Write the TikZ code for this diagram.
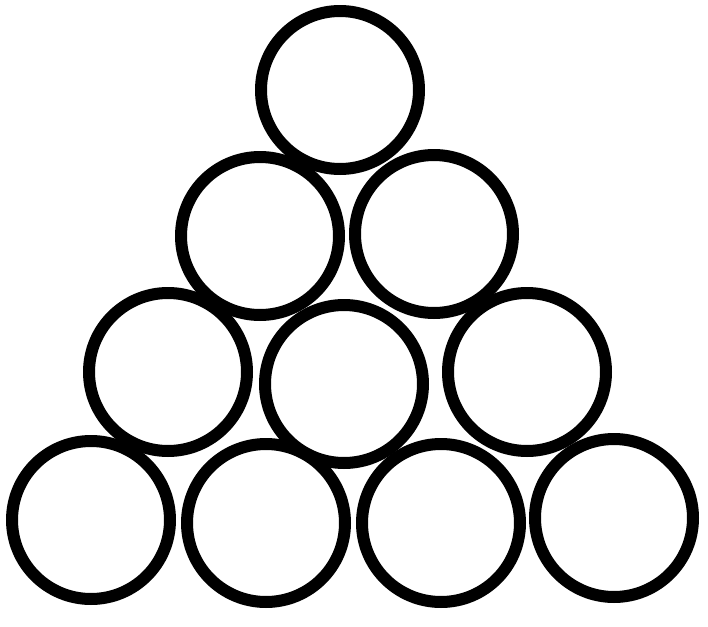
\documentclass[tikz,border=0pt]{standalone}
\usepackage{tikz}
\usetikzlibrary{positioning, shapes}
\tikzset{>=latex}

\begin{document}
\begin{tikzpicture}[x=0.05cm, y=-0.05cm,
    ball/.style={draw, circle, line width=0.6cm, inner sep=0pt, minimum size=7.9cm}]
    \useasboundingbox (0,0) rectangle (708,627);

    % top
    \node[ball] (n1) at (340,90) {};

    % second row
    \node[ball] (n2) at (260,236) {};
    \node[ball] (n3) at (434,234) {};

    % third row
    \node[ball] (n4) at (168,372) {};
    \node[ball] (n5) at (344,384) {};
    \node[ball] (n6) at (527,372) {};

    % bottom row
    \node[ball] (n7) at (91,520) {};
    \node[ball] (n8) at (266,523) {};
    \node[ball] (n9) at (441,523) {};
    \node[ball] (n10) at (614,518) {};
\end{tikzpicture}
\end{document}
